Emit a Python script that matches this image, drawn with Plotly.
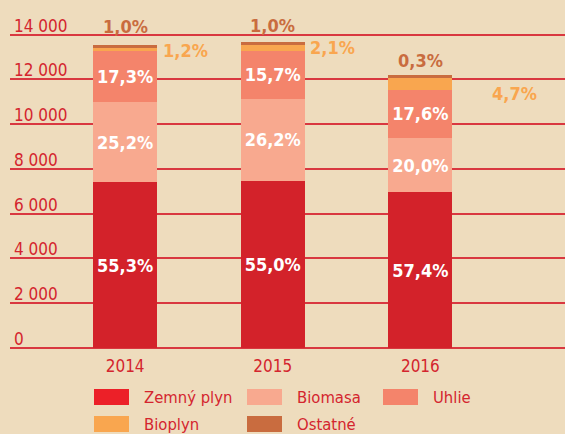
import plotly.graph_objects as go

years = ["2014", "2015", "2016"]
series_names = ["Zemný plyn", "Biomasa", "Uhlie", "Bioplyn", "Ostatné"]
zemny_plyn = [7400, 7480, 6950]
biomasa = [3600, 3650, 2450]
uhlie = [2270, 2160, 2130]
bioplyn = [140, 270, 550]
ostatne = [130, 120, 120]
pct_zemny = ["55,3%", "55,0%", "57,4%"]
pct_biomasa = ["25,2%", "26,2%", "20,0%"]
pct_uhlie = ["17,3%", "15,7%", "17,6%"]
pct_bioplyn = ["1,2%", "2,1%", "4,7%"]
pct_ostatne = ["1,0%", "1,0%", "0,3%"]
y_ticks = [0, 2000, 4000, 6000, 8000, 10000, 12000, 14000]
y_tick_labels = ["0", "2 000", "4 000", "6 000", "8 000", "10 000", "12 000", "14 000"]

colors = ["#D3222A", "#F8A98F", "#F4846B", "#F9A64F", "#C96C3F"]
legend_colors = ["#EC2028", "#F8A98F", "#F4846B", "#F9A64F", "#C96C3F"]
RED = "#D4252E"
BG = "#EEDCBD"
NARROW = "Liberation Sans Narrow, Arial Narrow, DejaVu Sans Condensed, sans-serif"

W, H = 565, 434
ML, MR, MT, MB = 10, 0, 28, 86
PW, PH = W - ML - MR, H - MT - MB


def px2x(px):
    return (px - ML) / PW


def py2y(py):
    return (H - MB - py) / PH


fig = go.Figure()
values = [zemny_plyn, biomasa, uhlie, bioplyn, ostatne]
texts = [pct_zemny, pct_biomasa, pct_uhlie, None, None]
for name, vals, col, txt in zip(series_names, values, colors, texts):
    fig.add_trace(go.Bar(
        x=years, y=vals, name=name, marker=dict(color=col, line=dict(width=0)),
        width=0.434,
        text=txt, textposition="inside" if txt else "none",
        insidetextanchor="middle", textangle=0,
        textfont=dict(color="white", size=18, family=NARROW, weight="bold"),
        showlegend=False, hoverinfo="skip",
    ))

annotations = []
# Outside labels for small segments
ost_shift = [19, 16, 14]
bio_dx = [60, 60, 94]
bio_dy = [-1, 0, -10]
for i, yr in enumerate(years):
    total = zemny_plyn[i] + biomasa[i] + uhlie[i] + bioplyn[i] + ostatne[i]
    bio_mid = zemny_plyn[i] + biomasa[i] + uhlie[i] + bioplyn[i] / 2
    annotations.append(dict(x=i, y=total, xref="x", yref="y", text=pct_ostatne[i],
                            showarrow=False, yshift=ost_shift[i], yanchor="middle",
                            font=dict(color=colors[4], size=18, family=NARROW, weight="bold")))
    annotations.append(dict(x=i, y=bio_mid, xref="x", yref="y", text=pct_bioplyn[i],
                            showarrow=False, xshift=bio_dx[i], yshift=bio_dy[i], yanchor="middle",
                            font=dict(color=colors[3], size=18, family=NARROW, weight="bold")))

# Y tick labels sitting above grid lines
for v, lab in zip(y_ticks, y_tick_labels):
    annotations.append(dict(x=px2x(12), y=v, xref="paper", yref="y", text=lab,
                            showarrow=False, xanchor="left", yanchor="bottom", yshift=-3,
                            font=dict(color=RED, size=17, family=NARROW)))

# Manual legend
leg_x = [94, 247, 383]
leg_rows = [389, 416]
shapes = []
for k, (name, col) in enumerate(zip(series_names, legend_colors)):
    r, c = divmod(k, 3)
    x0 = leg_x[c]
    y0 = leg_rows[r]
    shapes.append(dict(type="rect", xref="paper", yref="paper",
                       x0=px2x(x0), x1=px2x(x0 + 35), y0=py2y(y0 + 16), y1=py2y(y0),
                       fillcolor=col, line=dict(width=0)))
    annotations.append(dict(x=px2x(x0 + 48), y=py2y(y0 + 8), xref="paper", yref="paper",
                            text=name, showarrow=False, xanchor="left", yanchor="middle",
                            font=dict(color=RED, size=16.5, family=NARROW)))

fig.update_layout(
    barmode="stack",
    width=W, height=H,
    margin=dict(l=ML, r=MR, t=MT, b=MB, pad=0),
    paper_bgcolor=BG, plot_bgcolor=BG,
    xaxis=dict(type="category", range=[-0.78, 2.98], showgrid=False, zeroline=False,
               showline=False, ticks="", ticklabelstandoff=6,
               tickfont=dict(color=RED, size=17, family=NARROW)),
    yaxis=dict(range=[0, 14300], tickvals=y_ticks, showticklabels=False,
               showgrid=True, gridcolor="#D93840", gridwidth=1.5, zeroline=True,
               zerolinecolor="#D93840", zerolinewidth=1.5, showline=False),
    annotations=annotations,
    shapes=shapes,
    showlegend=False,
)

fig.write_html("out.html", config={"displayModeBar": False},
               post_script="document.body.style.margin='0';document.body.style.background='%s';" % BG)
